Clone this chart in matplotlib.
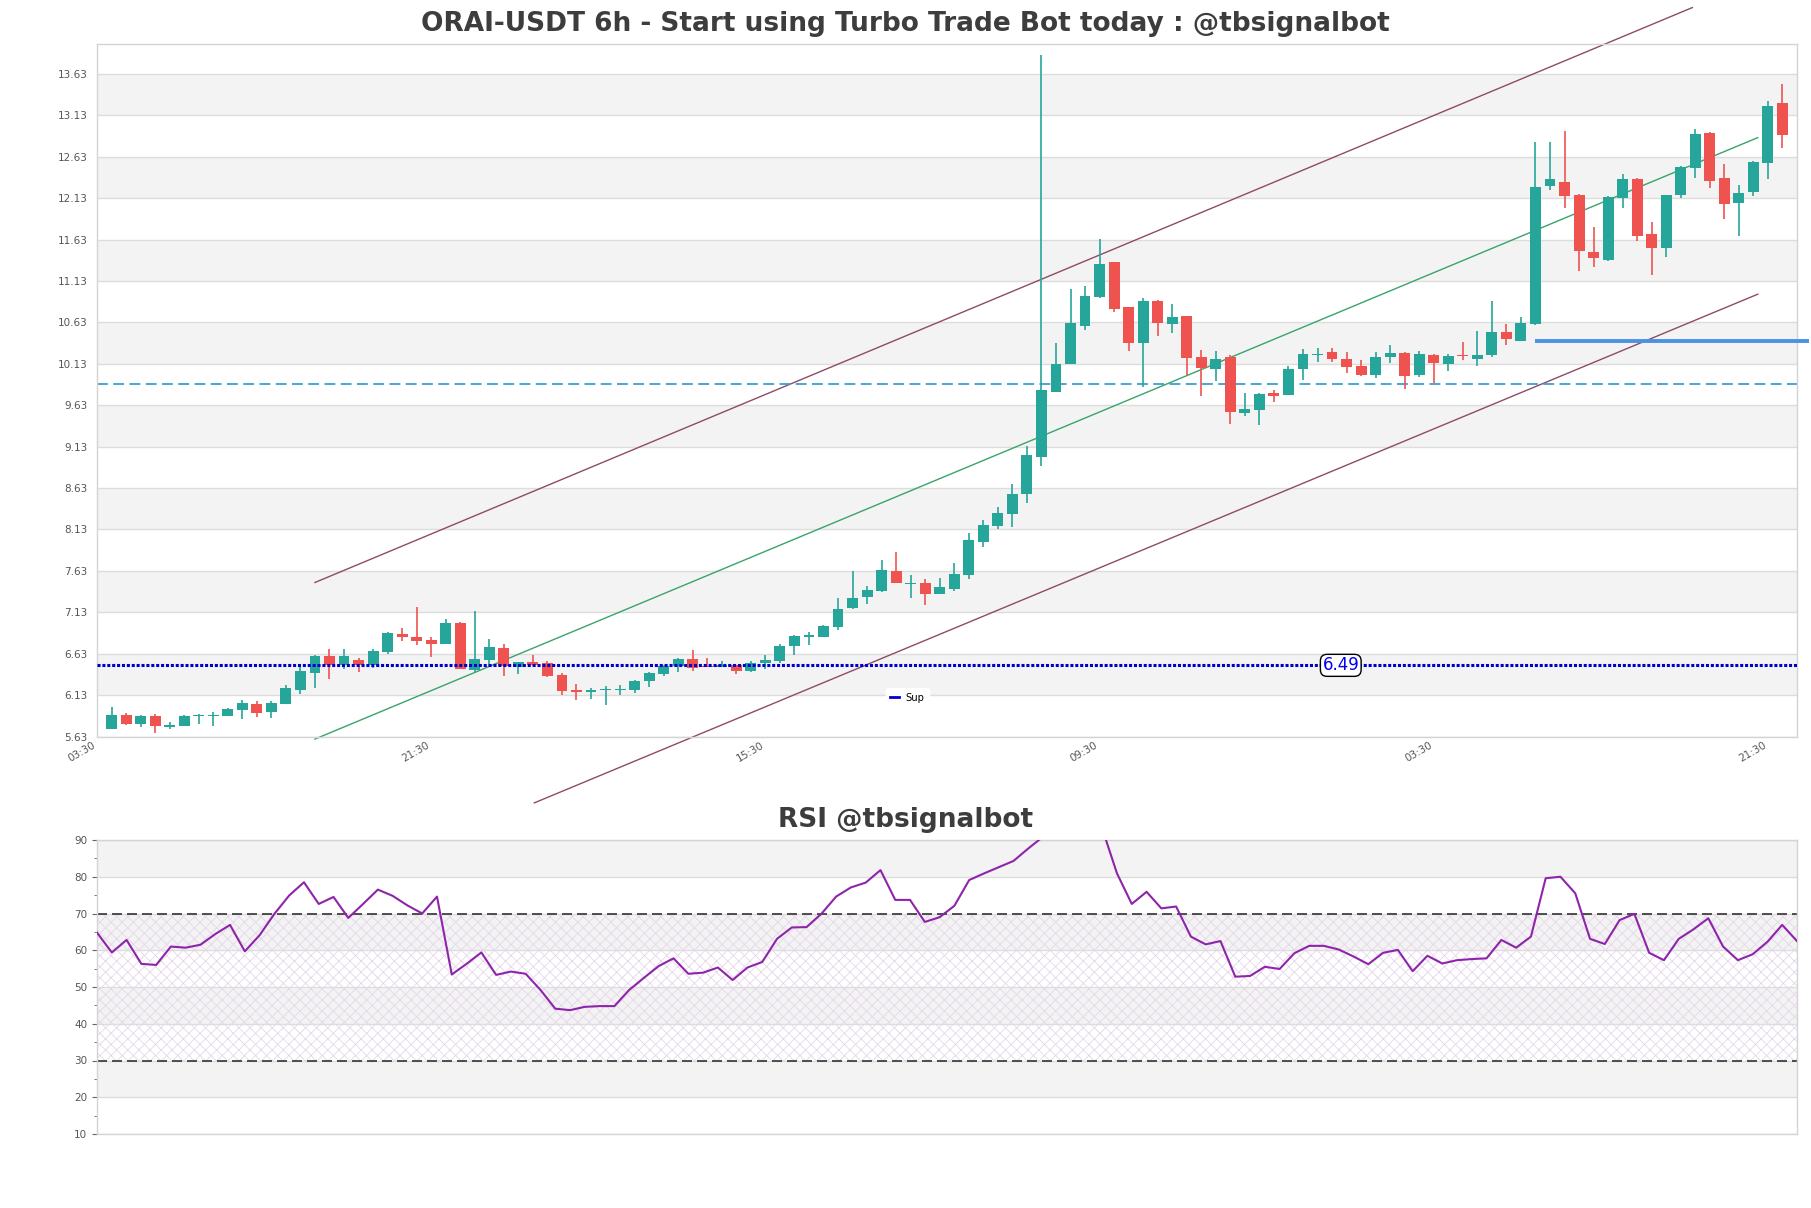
import matplotlib
matplotlib.use("Agg")
import matplotlib.pyplot as plt
from matplotlib.lines import Line2D
import numpy as np

plt.rcParams["hatch.linewidth"] = 0.6

# ---------------- data ----------------
opens = [5.727, 5.892, 5.783, 5.884, 5.751, 5.763, 5.878, 5.876, 5.884, 5.956,
         6.024, 5.924, 6.028, 6.197, 6.402, 6.603, 6.499, 6.555, 6.499, 6.656,
         6.869, 6.832, 6.796, 6.748, 7.005, 6.434, 6.555, 6.700, 6.475, 6.531,
         6.515, 6.378, 6.189, 6.169, 6.193, 6.195, 6.197, 6.298, 6.390, 6.487,
         6.567, 6.479, 6.467, 6.491, 6.427, 6.523, 6.543, 6.728, 6.837, 6.837,
         6.949, 7.178, 7.311, 7.383, 7.633, 7.474, 7.482, 7.353, 7.413, 7.582,
         7.976, 8.170, 8.322, 8.564, 9.006, 9.790, 10.132, 10.586, 10.936, 11.358,
         10.815, 10.381, 10.884, 10.610, 10.703, 10.209, 10.064, 10.209, 9.538, 9.570,
         9.779, 9.755, 10.064, 10.237, 10.270, 10.185, 10.101, 9.996, 10.213, 10.257,
         9.996, 10.233, 10.129, 10.241, 10.189, 10.233, 10.511, 10.405, 10.610, 12.271,
         12.319, 12.166, 11.475, 11.378, 12.130, 12.355, 11.692, 11.527, 12.162, 12.492,
         12.914, 12.367, 12.070, 12.199, 12.552, 13.280]
highs = [5.988, 5.916, 5.892, 5.900, 5.811, 5.892, 5.900, 5.932, 5.976, 6.072,
         6.056, 6.060, 6.249, 6.467, 6.615, 6.688, 6.688, 6.575, 6.684, 6.890,
         6.937, 7.198, 6.828, 7.050, 7.013, 7.146, 6.808, 6.748, 6.535, 6.611,
         6.547, 6.398, 6.270, 6.217, 6.246, 6.258, 6.318, 6.410, 6.499, 6.579,
         6.680, 6.579, 6.539, 6.499, 6.539, 6.615, 6.752, 6.861, 6.889, 6.977,
         7.303, 7.633, 7.452, 7.766, 7.862, 7.581, 7.534, 7.542, 7.723, 8.093,
         8.240, 8.403, 8.676, 9.135, 13.863, 10.385, 11.037, 11.065, 11.640, 11.360,
         10.820, 10.924, 10.896, 10.856, 10.710, 10.294, 10.282, 10.233, 9.783, 9.775,
         9.819, 10.101, 10.306, 10.326, 10.326, 10.270, 10.173, 10.270, 10.354, 10.270,
         10.286, 10.253, 10.253, 10.390, 10.527, 10.885, 10.607, 10.691, 12.806, 12.806,
         12.938, 12.182, 11.780, 12.150, 12.416, 12.371, 11.845, 12.170, 12.520, 12.959,
         12.926, 12.536, 12.283, 12.572, 13.296, 13.513]
lows = [5.720, 5.767, 5.751, 5.678, 5.719, 5.759, 5.783, 5.761, 5.880, 5.839,
        5.872, 5.851, 6.024, 6.149, 6.221, 6.326, 6.446, 6.406, 6.455, 6.623,
        6.788, 6.740, 6.595, 6.745, 6.440, 6.394, 6.467, 6.362, 6.386, 6.483,
        6.350, 6.129, 6.069, 6.089, 6.016, 6.137, 6.157, 6.225, 6.358, 6.406,
        6.422, 6.467, 6.465, 6.382, 6.415, 6.451, 6.519, 6.620, 6.740, 6.829,
        6.921, 7.170, 7.235, 7.380, 7.478, 7.299, 7.216, 7.350, 7.389, 7.534,
        7.920, 8.134, 8.162, 8.451, 8.893, 9.790, 10.124, 10.534, 10.924, 10.755,
        10.285, 9.850, 10.462, 10.502, 9.991, 9.743, 9.924, 9.409, 9.502, 9.397,
        9.670, 9.750, 9.932, 10.153, 10.153, 10.020, 9.984, 9.964, 10.145, 9.831,
        9.972, 9.892, 10.040, 10.173, 10.101, 10.213, 10.354, 10.400, 10.594, 12.223,
        12.010, 11.246, 11.294, 11.370, 12.010, 11.608, 11.197, 11.415, 12.130, 12.371,
        12.255, 11.873, 11.672, 12.154, 12.359, 12.733]
closes = [5.892, 5.783, 5.884, 5.763, 5.765, 5.880, 5.885, 5.888, 5.964, 6.032,
          5.920, 6.032, 6.217, 6.418, 6.603, 6.499, 6.603, 6.491, 6.664, 6.881,
          6.836, 6.788, 6.752, 7.001, 6.446, 6.567, 6.712, 6.487, 6.531, 6.495,
          6.366, 6.177, 6.169, 6.197, 6.199, 6.201, 6.306, 6.398, 6.487, 6.571,
          6.455, 6.471, 6.495, 6.427, 6.523, 6.559, 6.728, 6.849, 6.853, 6.969,
          7.174, 7.307, 7.404, 7.645, 7.480, 7.486, 7.353, 7.433, 7.590, 8.007,
          8.181, 8.330, 8.556, 9.026, 9.810, 10.132, 10.626, 10.944, 11.338, 10.795,
          10.381, 10.884, 10.622, 10.695, 10.200, 10.081, 10.193, 9.546, 9.582, 9.771,
          9.739, 10.064, 10.245, 10.253, 10.185, 10.093, 9.992, 10.209, 10.257, 9.980,
          10.245, 10.141, 10.221, 10.221, 10.233, 10.511, 10.426, 10.618, 12.259, 12.355,
          12.150, 11.487, 11.406, 12.142, 12.355, 11.672, 11.527, 12.162, 12.504, 12.898,
          12.335, 12.058, 12.195, 12.560, 13.236, 12.890]

rsi = [64.8, 59.4, 62.8, 56.3, 56.0, 61.0, 60.7, 61.5, 64.4, 66.9,
       59.7, 64.1, 69.9, 74.9, 78.5, 72.6, 74.5, 68.8, 72.6, 76.5,
       74.8, 72.2, 70.0, 74.6, 53.4, 56.3, 59.4, 53.3, 54.2, 53.6,
       49.2, 44.1, 43.7, 44.6, 44.8, 44.8, 49.2, 52.5, 55.7, 57.8,
       53.6, 53.9, 55.3, 51.9, 55.3, 56.8, 63.1, 66.2, 66.3, 69.9,
       74.6, 77.1, 78.4, 81.8, 73.7, 73.7, 67.7, 69.0, 72.1, 79.1,
       80.9, 82.6, 84.3, 87.7, 90.9, 93.5, 94.8, 95.5, 93.1, 80.9,
       72.6, 75.9, 71.4, 71.9, 63.7, 61.6, 62.5, 52.8, 53.0, 55.5,
       54.9, 59.2, 61.2, 61.2, 60.2, 58.3, 56.2, 59.3, 60.1, 54.3,
       58.5, 56.4, 57.3, 57.6, 57.8, 62.8, 60.7, 63.7, 79.6, 80.0,
       75.5, 63.1, 61.7, 68.2, 69.9, 59.3, 57.3, 63.1, 65.7, 68.7,
       61.0, 57.3, 58.9, 62.3, 66.9, 62.5]

xtick_pos = [-1, 22, 45, 68, 91, 114]
xtick_labels = ["03:30", "21:30", "15:30", "09:30", "03:30", "21:30"]
ytick_vals = [5.63 + 0.5 * k for k in range(17)]
rsi_ticks = [10, 20, 30, 40, 50, 60, 70, 80, 90]

# channel lines (index, price)
upper_x, upper_y = [14.0, 108.8], [7.49, 14.43]
mid_x, mid_y = [14.0, 113.3], [5.60, 12.86]
lower_x, lower_y = [29.1, 113.3], [4.83, 10.97]

support_level = 6.49
support_label_x = 84.6
dashed_level = 9.89
res_level = 10.41
res_start = 98

title = "ORAI-USDT 6h - Start using Turbo Trade Bot today : @tbsignalbot"
rsi_title = "RSI @tbsignalbot"

# ---------------- styling ----------------
UP = "#26a69a"
DOWN = "#ef5350"
BAND = "#f3f3f3"
GRID = "#dddddd"
SPINE = "#d4d4d4"
TXT = "#555555"
TITLE_C = "#3d3d3d"

W, H = 1811, 1208
fig = plt.figure(figsize=(W / 100, H / 100), dpi=100)
ax = fig.add_axes([97 / W, 1 - 737 / H, 1700 / W, 693 / H])
ax2 = fig.add_axes([97 / W, 1 - 1134 / H, 1700 / W, 294 / H])

n = len(closes)
x = np.arange(n)
o = np.array(opens); c = np.array(closes); hi = np.array(highs); lo = np.array(lows)

ax.set_xlim(-1, n)
ax.set_ylim(5.625, 13.99)

# bands + grid
for k in range(len(ytick_vals) - 1):
    if k % 2 == 1:
        ax.axhspan(ytick_vals[k], ytick_vals[k + 1], color=BAND, zorder=0, lw=0)
for v in ytick_vals:
    ax.axhline(v, color=GRID, lw=1, zorder=0.5)

# channel lines
ax.plot(upper_x, upper_y, color="#8e4a6a", lw=1.0, zorder=2, clip_on=False)
ax.plot(mid_x, mid_y, color="#3aa36a", lw=1.0, zorder=2, clip_on=False)
ax.plot(lower_x, lower_y, color="#8e4a6a", lw=1.0, zorder=2, clip_on=False)

# dashed level
ax.axhline(dashed_level, color="#3a9fd0", lw=1.3, dashes=(6, 3), zorder=2)

# candles
colors = np.where(c >= o, UP, DOWN)
ax.vlines(x, lo, hi, colors=colors, lw=1.2, zorder=3)
body_h = np.maximum(np.abs(c - o), 0.012)
ax.bar(x, body_h, bottom=np.minimum(o, c), width=0.75, color=colors, zorder=3.5, lw=0)

# resistance (light blue)
ax.plot([res_start, n + 0.8], [res_level, res_level], color="#4a92e6", lw=2.8,
        solid_capstyle="butt", zorder=4, clip_on=False)

# support line
ax.axhline(support_level, color="#0000cc", lw=2.2, ls=(0, (1, 0.6)), zorder=4)
ax.text(support_label_x, support_level, f"{support_level:.2f}", ha="center", va="center",
        color="#0000ee", fontsize=12, zorder=6,
        bbox=dict(boxstyle="round,pad=0.12,rounding_size=0.4", fc="white", ec="black", lw=1))

leg = ax.legend(handles=[Line2D([], [], color="#0000cc", lw=2)], labels=["Sup"],
                loc="lower left", bbox_to_anchor=(0.461, 0.036), fontsize=7.2,
                frameon=True, framealpha=1, edgecolor="white", handlelength=0.9,
                handletextpad=0.6, borderpad=0.45)
leg.set_zorder(7)

ax.set_yticks(ytick_vals)
ax.set_yticklabels([f"{v:.2f}" for v in ytick_vals])
ax.set_xticks(xtick_pos)
ax.set_xticklabels(xtick_labels, rotation=30, ha="right")
ax.tick_params(axis="y", length=0, pad=7, labelsize=7.5, labelcolor=TXT)
ax.tick_params(axis="x", length=0, pad=2, labelsize=7.5, labelcolor=TXT)
for s in ax.spines.values():
    s.set_color(SPINE)
    s.set_linewidth(1)

fig.text(0.5, 1 - 24 / H, title, ha="center", va="center", fontsize=19,
         fontweight="bold", color=TITLE_C)

# ---------------- RSI ----------------
ax2.set_xlim(0, n - 1)
ax2.set_ylim(10, 90)
for k in range(len(rsi_ticks) - 1):
    if k % 2 == 1:
        ax2.axhspan(rsi_ticks[k], rsi_ticks[k + 1], color=BAND, zorder=0, lw=0)
for v in rsi_ticks:
    ax2.axhline(v, color=GRID, lw=1, zorder=0.5)
ax2.axhspan(30, 70, facecolor="none", edgecolor="#e6d6ea", hatch="xxx", lw=0, zorder=0.8)
ax2.axhline(70, color="#333333", lw=1.2, dashes=(6, 3), zorder=2)
ax2.axhline(30, color="#333333", lw=1.2, dashes=(6, 3), zorder=2)
ax2.plot(x, rsi, color="#8e24aa", lw=1.5, zorder=3)
ax2.set_yticks(rsi_ticks)
ax2.set_yticks(np.arange(15, 90, 10), minor=True)
ax2.set_xticks([])
ax2.tick_params(axis="y", which="major", length=3.5, color="#666666", labelsize=7.5, labelcolor=TXT)
ax2.tick_params(axis="y", which="minor", length=2, color="#666666")
for s in ax2.spines.values():
    s.set_color(SPINE)
    s.set_linewidth(1)

fig.text(0.5, 1 - 820 / H, rsi_title, ha="center", va="center", fontsize=19,
         fontweight="bold", color=TITLE_C)

fig.savefig("out.png", dpi=100, facecolor="white")
